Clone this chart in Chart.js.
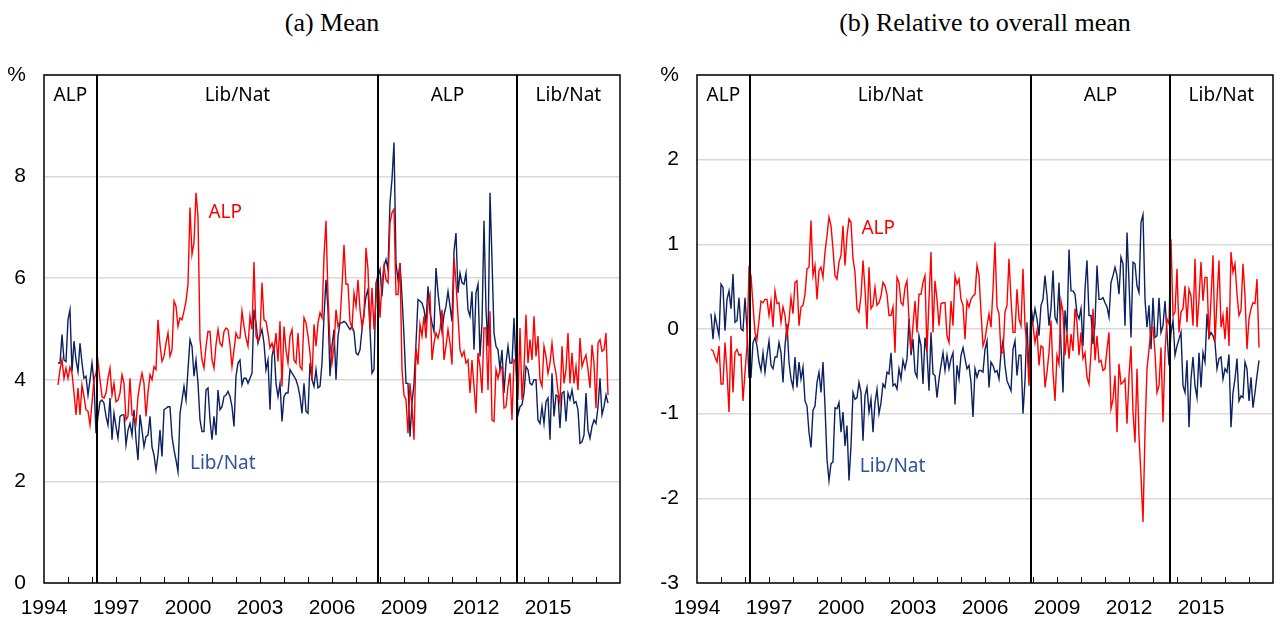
<!DOCTYPE html>
<html>
<head>
<meta charset="utf-8">
<script src="https://cdn.jsdelivr.net/npm/chart.js@4.4.0/dist/chart.umd.min.js"></script>
<style>
  body { margin: 0; background: #fff; width: 1280px; height: 622px; position: relative; overflow: hidden; }
  .title { position: absolute; top: 8px; width: 576px; text-align: center; font: 26px/30px "Liberation Serif", "Times New Roman", serif; color: #000; }
  .panel { position: absolute; top: 0; height: 622px; }
</style>
</head>
<body>
<div class="title" style="left:44px">(a) Mean</div>
<div class="title" style="left:697px">(b) Relative to overall mean</div>
<div class="panel" style="left:0;width:640px"><canvas id="meanChart"></canvas></div>
<div class="panel" style="left:653px;width:627px"><canvas id="relChart"></canvas></div>

<script>
// monthly observations, first one is August 1994
const startYear = 1994;
const startMonth = 8;
const govChanges = [1996.2, 2007.92, 2013.7];
const periodNames = ['ALP', 'Lib/Nat', 'ALP', 'Lib/Nat'];
const yearTicks = [1994, 1997, 2000, 2003, 2006, 2009, 2012, 2015];

// (a) mean, per cent
const alpMean = [
  3.90, 4.20, 4.40, 4.03, 4.23, 4.03, 4.25, 4.13, 3.74, 3.31,
  3.84, 3.31, 3.90, 3.67, 3.41, 3.38, 3.11, 3.54, 4.00, 4.13,
  4.36, 4.00, 3.67, 3.64, 3.74, 4.03, 4.23, 3.70, 3.93, 3.57,
  3.60, 3.74, 4.10, 3.93, 3.21, 3.28, 4.03, 3.31, 3.28, 3.14,
  3.67, 3.93, 4.13, 3.93, 3.28, 3.74, 4.10, 4.00, 4.26, 4.20,
  5.18, 4.69, 4.36, 4.46, 4.72, 4.92, 4.46, 4.59, 5.55, 5.45,
  5.05, 5.22, 5.18, 5.35, 5.55, 5.88, 7.39, 6.47, 6.70, 7.68,
  7.22, 4.79, 4.39, 4.23, 4.66, 4.95, 4.95, 4.39, 4.23, 4.69,
  4.99, 4.72, 4.66, 4.95, 5.02, 4.99, 4.69, 4.26, 4.59, 4.92,
  4.82, 4.82, 5.35, 5.05, 4.82, 4.66, 5.25, 4.99, 6.32, 4.86,
  4.76, 4.89, 5.91, 5.18, 5.15, 4.92, 4.63, 4.72, 4.56, 4.92,
  4.36, 5.15, 3.87, 5.05, 4.59, 4.33, 4.86, 4.99, 4.39, 4.33,
  4.92, 4.26, 4.20, 5.22, 5.12, 4.86, 4.53, 4.00, 5.09, 4.66,
  5.12, 5.32, 5.22, 6.43, 7.13, 5.64, 4.72, 4.33, 4.66, 5.38,
  5.05, 5.15, 5.84, 6.66, 5.88, 5.88, 5.15, 5.02, 5.71, 5.45,
  5.97, 5.38, 5.05, 5.25, 6.60, 6.17, 4.99, 5.81, 4.99, 5.58,
  6.17, 5.22, 5.91, 6.24, 5.97, 5.91, 7.09, 7.29, 7.36, 5.68,
  5.68, 6.30, 4.20, 3.70, 3.61, 2.95, 3.93, 3.47, 2.82, 4.63,
  4.30, 5.09, 4.86, 5.25, 4.82, 5.51, 5.68, 4.39, 4.72, 4.92,
  4.82, 4.99, 5.38, 4.39, 4.66, 4.99, 4.72, 4.30, 6.40, 5.91,
  5.25, 4.59, 4.46, 4.56, 4.33, 4.39, 3.74, 4.39, 3.87, 3.34,
  4.53, 4.26, 3.74, 5.02, 5.02, 3.80, 5.35, 3.21, 3.18, 4.20,
  4.03, 4.20, 4.26, 3.44, 3.47, 3.87, 4.13, 3.21, 4.39, 4.33,
  3.61, 5.02, 3.61, 4.20, 5.28, 4.33, 4.79, 4.39, 5.25, 4.46,
  4.86, 4.00, 3.87, 4.66, 4.46, 4.13, 4.33, 4.72, 4.33, 4.13,
  3.77, 3.54, 4.66, 3.93, 4.20, 4.92, 3.93, 4.53, 3.93, 4.26,
  3.80, 4.82, 4.26, 4.39, 4.49, 4.20, 3.84, 4.69, 4.33, 3.44,
  4.72, 4.79, 4.56, 4.59, 4.92, 3.70
];
const libMean = [
  4.33, 4.33, 4.89, 4.39, 4.36, 5.18, 5.38, 4.16, 4.76, 4.39,
  4.16, 4.72, 4.33, 4.03, 4.07, 3.70, 4.00, 4.33, 3.93, 2.95,
  3.28, 3.57, 3.60, 3.54, 3.28, 3.11, 3.64, 2.82, 3.34, 3.08,
  2.85, 3.28, 3.31, 3.31, 2.72, 3.01, 3.14, 2.91, 3.41, 2.82,
  2.42, 3.31, 3.01, 2.68, 2.88, 2.91, 3.28, 2.68, 2.52, 2.22,
  2.52, 3.01, 2.49, 3.41, 3.44, 3.47, 3.47, 2.88, 2.62, 2.42,
  2.19, 3.34, 3.60, 3.87, 3.60, 4.20, 4.79, 4.66, 4.07, 4.39,
  3.93, 3.21, 2.98, 2.98, 3.80, 3.84, 3.21, 2.82, 3.28, 2.91,
  3.80, 3.41, 3.47, 3.67, 3.70, 3.77, 3.67, 3.47, 3.08, 4.07,
  4.33, 4.39, 3.90, 4.03, 4.03, 3.93, 4.03, 4.13, 5.38, 5.12,
  4.72, 4.86, 4.99, 4.72, 4.20, 4.39, 3.41, 4.46, 4.66, 3.93,
  3.67, 3.93, 3.18, 3.67, 3.74, 3.74, 4.20, 4.13, 4.07, 4.00,
  3.87, 3.67, 3.34, 3.93, 3.38, 3.34, 4.33, 4.00, 3.87, 4.20,
  3.84, 3.87, 4.33, 5.25, 5.97, 5.38, 4.07, 4.66, 4.99, 4.00,
  4.86, 5.12, 5.12, 5.15, 5.12, 5.05, 4.99, 5.05, 4.95, 4.53,
  4.49, 4.59, 4.99, 5.32, 5.64, 5.78, 4.99, 4.13, 4.20, 5.91,
  6.04, 6.17, 5.64, 6.24, 6.37, 6.17, 7.49, 7.95, 8.67, 6.30,
  5.97, 6.30, 5.64, 4.86, 3.93, 3.93, 2.88, 3.54, 3.93, 4.72,
  5.58, 5.55, 5.51, 5.38, 5.12, 5.84, 5.32, 5.12, 4.95, 6.20,
  5.71, 5.35, 4.95, 5.28, 5.45, 5.74, 5.45, 5.15, 6.53, 6.89,
  5.71, 6.10, 5.91, 5.88, 6.10, 5.38, 5.25, 5.74, 4.59, 5.71,
  5.88, 4.46, 5.12, 7.13, 5.38, 4.66, 7.68, 6.37, 4.92, 4.66,
  4.59, 4.20, 4.59, 3.74, 4.33, 4.66, 4.33, 4.33, 5.22, 4.26,
  3.31, 3.47, 3.51, 3.74, 4.26, 4.20, 3.93, 3.90, 4.00, 4.00,
  3.21, 3.14, 3.47, 3.14, 3.57, 3.64, 2.82, 4.13, 3.28, 3.70,
  3.67, 3.05, 3.74, 3.77, 3.18, 3.74, 3.61, 3.80, 3.54, 3.57,
  3.41, 2.75, 2.78, 2.91, 3.74, 3.01, 2.85, 3.08, 3.21, 3.14,
  3.47, 4.03, 3.31, 3.47, 3.70, 3.54
];

// (b) relative to overall mean, percentage points
const alpRel = [
  -0.24, -0.26, -0.33, -0.39, -0.20, -0.65, -0.65, -0.16, -0.51, -0.98,
  -0.08, -0.75, -0.28, -0.24, -0.31, -0.30, -0.85, -0.51, -0.20, 0.71,
  0.63, 0.28, -0.04, -0.12, 0.10, 0.33, 0.31, 0.35, 0.35, 0.16,
  0.33, 0.02, 0.45, 0.30, 0.31, 0.08, 0.26, 0.16, -0.08, 0.10,
  0.37, 0.18, 0.55, 0.57, 0.04, 0.26, 0.28, 0.41, 0.71, 0.73,
  1.28, 0.63, 0.75, 0.35, 0.69, 0.73, 0.61, 0.91, 1.10, 1.32,
  1.22, 0.94, 0.63, 0.59, 0.79, 0.87, 1.22, 0.75, 1.10, 1.30,
  1.26, 0.83, 0.67, 0.24, 0.20, 0.39, 0.81, 0.47, 0.00, 0.73,
  0.24, 0.28, 0.49, 0.28, 0.31, 0.39, 0.55, 0.51, 0.41, 0.16,
  0.16, 0.26, -0.28, 0.61, 0.55, 0.31, 0.28, 0.49, 0.57, 0.12,
  -0.26, 0.04, 0.33, -0.04, 0.41, 0.41, 0.55, 0.63, -0.28, 0.35,
  0.91, -0.04, 0.57, 0.35, 0.04, 0.30, 0.31, 0.31, -0.08, -0.16,
  0.33, 0.04, 0.63, 0.53, 0.59, 0.35, 0.28, -0.12, 0.33, 0.26,
  0.35, 0.39, 0.41, 0.75, 0.63, 0.20, -0.20, -0.12, 0.04, 0.18,
  0.02, 0.47, 1.02, 0.26, 0.18, -0.28, -0.28, 0.20, 0.28, 0.83,
  0.35, -0.04, -0.04, 0.47, 0.12, 0.04, 0.71, 0.04, -0.20, -0.67,
  0.12, 0.04, -0.16, -0.02, -0.43, -0.20, -0.22, -0.69, -0.51, -0.28,
  0.10, -0.51, -0.85, -0.31, -0.41, 0.33, 0.20, -0.31, -0.04, -0.35,
  -0.06, -0.26, 0.24, 0.08, -0.31, -0.04, -0.35, -0.28, -0.57, -0.65,
  -0.28, 0.24, -0.37, -0.08, -0.39, -0.37, -0.49, -0.47, -0.24, -0.04,
  -0.94, -0.83, -0.55, -1.22, -0.41, -0.65, -0.63, -0.59, -1.12, -0.55,
  -0.20, -0.98, -1.34, -0.47, -1.26, -1.73, -2.28, -1.22, -0.47, -0.24,
  0.00, 0.02, -0.28, -0.75, -0.67, -0.22, -1.10, -0.28, 0.12, 0.06,
  1.06, 0.16, 0.20, 0.71, -0.04, 0.20, 0.24, 0.51, 0.08, 0.47,
  0.39, 0.04, 0.83, 0.02, 0.35, 0.79, 0.33, 0.61, 0.61, -0.12,
  0.35, 0.87, -0.16, 0.35, 0.81, 0.02, 0.16, -0.12, 0.26, -0.20,
  0.91, 0.67, 0.77, 0.41, 0.16, 0.22, 0.77, 0.39, -0.24, 0.12,
  0.24, 0.31, 0.30, 0.59, -0.22
];
const libRel = [
  0.18, -0.12, 0.16, 0.04, -0.08, 0.53, 0.49, -0.02, 0.35, 0.45,
  0.24, 0.65, 0.08, 0.10, 0.37, 0.00, -0.02, 0.37, 0.00, -0.57,
  -0.57, -0.16, -0.10, -0.20, -0.39, -0.49, -0.28, -0.51, -0.31, -0.14,
  -0.43, -0.47, -0.33, -0.33, -0.16, -0.28, -0.63, -0.20, 0.06, -0.39,
  -0.59, -0.69, -0.33, -0.69, -0.39, -0.59, -0.45, -0.85, -0.91, -1.22,
  -1.40, -0.96, -0.91, -0.63, -0.51, -0.75, -0.39, -0.91, -1.54, -1.79,
  -1.59, -1.57, -0.93, -0.94, -0.87, -1.22, -0.98, -1.38, -1.14, -1.79,
  -1.38, -0.75, -0.83, -0.81, -0.63, -0.75, -1.32, -0.79, -0.69, -0.98,
  -0.83, -1.22, -0.87, -0.71, -1.00, -0.87, -0.65, -0.69, -0.51, -0.53,
  -0.28, -0.67, -0.65, -0.71, -0.47, -0.59, -0.37, -0.47, -0.35, 0.12,
  -0.31, -0.12, -0.51, -0.57, -0.08, -0.20, -0.65, -0.10, -0.28, -0.73,
  -0.04, -0.53, -0.55, -0.81, -0.59, -0.43, -0.28, -0.49, -0.31, -0.47,
  -0.35, -0.28, -0.89, -0.43, -0.59, -0.31, -0.22, -0.35, -0.47, -0.43,
  -0.63, -1.04, -0.47, -0.57, -0.49, -0.49, -0.51, -0.24, -0.14, -0.69,
  -0.39, -0.43, -0.51, -0.49, -0.59, -0.28, -0.14, -0.43, -0.61, -0.67,
  -0.73, -0.24, -0.14, -0.55, -0.31, -0.31, -1.00, -0.61, 0.08, -0.55,
  0.28, 0.08, 0.24, 0.12, -0.08, 0.28, 0.35, 0.63, 0.39, 0.04,
  0.24, 0.69, 0.14, 0.08, 0.55, -0.20, -0.75, 0.22, -0.04, 0.94,
  0.45, 0.45, 0.41, 0.18, 0.12, 0.24, -0.20, 0.47, 0.81, 0.16,
  0.16, -0.18, 0.06, 0.75, 0.35, 0.35, 0.37, 0.31, 0.26, 0.14,
  0.55, 0.63, 0.73, 0.63, 0.41, 0.85, 0.77, 0.04, 1.14, 0.55,
  -0.10, 0.79, 0.77, 0.51, 0.43, 1.26, 1.35, 0.35, 0.02, 0.28,
  -0.24, 0.37, -0.10, -0.08, 0.37, -0.04, 0.04, 0.33, -0.04, -0.43,
  -0.04, 0.10, -0.31, -0.20, -0.12, -0.04, -0.67, -0.75, -0.37, -1.16,
  -0.59, -0.33, -0.67, -0.81, -0.28, -0.69, -0.28, -0.39, 0.18, -0.10,
  -0.04, -0.08, -0.16, -0.47, -0.35, -0.33, -0.59, -0.47, -0.51, -0.30,
  -1.16, -0.75, -0.59, -0.35, -0.85, -0.79, -0.81, -0.39, -0.47, -0.85,
  -0.57, -0.93, -0.75, -0.55, -0.37
];

const ALP_RED = '#ff0000';
const LIB_BLUE = '#0b2160';
const LIB_TEXT = '#2f5597';

const months = alpMean.map((_, i) => startYear + (startMonth - 1 + i) / 12);
const toPoints = (values) => values.map((v, i) => ({ x: months[i], y: v }));

Chart.defaults.font.family = '"Liberation Sans", Arial, sans-serif';
Chart.defaults.font.size = 21;
Chart.defaults.color = '#000';

// black frame, government change lines, inward year ticks and text labels
const panelDecor = {
    id: 'panelDecor',
    afterDatasetsDraw(chart, args, opts) {
        const { ctx, chartArea: area, scales: { x, y } } = chart;
        ctx.save();
        ctx.strokeStyle = '#000';

        ctx.lineWidth = 2;
        govChanges.forEach(t => {
            const px = Math.round(x.getPixelForValue(t));
            ctx.beginPath();
            ctx.moveTo(px, area.top);
            ctx.lineTo(px, area.bottom);
            ctx.stroke();
        });

        ctx.lineWidth = 1;
        for (let yr = x.min + 1; yr < x.max; yr++) {
            const px = Math.round(x.getPixelForValue(yr)) + 0.5;
            ctx.beginPath();
            ctx.moveTo(px, area.bottom);
            ctx.lineTo(px, area.bottom - 6);
            ctx.stroke();
        }

        ctx.lineWidth = 1.5;
        ctx.strokeRect(area.left, area.top, area.width, area.height);

        ctx.font = '19px "Noto Sans", sans-serif';
        ctx.textAlign = 'center';
        ctx.textBaseline = 'middle';
        ctx.fillStyle = '#000';
        const edges = [x.min, ...govChanges, x.max];
        periodNames.forEach((name, i) => {
            const cx = (x.getPixelForValue(edges[i]) + x.getPixelForValue(edges[i + 1])) / 2;
            ctx.fillText(name, cx, area.top + 21);
        });

        opts.labels.forEach(l => {
            ctx.fillStyle = l.color;
            ctx.fillText(l.text, x.getPixelForValue(l.x), y.getPixelForValue(l.y));
        });
        ctx.restore();
    }
};

function buildChart(canvasId, alpValues, libValues, yMin, yMax, yStep, labels) {
    return new Chart(document.getElementById(canvasId), {
        type: 'line',
        data: {
            datasets: [
                { label: 'ALP', data: toPoints(alpValues), borderColor: ALP_RED },
                { label: 'Lib/Nat', data: toPoints(libValues), borderColor: LIB_BLUE }
            ]
        },
        options: {
            responsive: true,
            maintainAspectRatio: false,
            animation: false,
            layout: { padding: { top: 75, right: canvasId === 'meanChart' ? 20 : 7, left: 0, bottom: 0 } },
            elements: {
                line: { borderWidth: 1.4, tension: 0 },
                point: { radius: 0 }
            },
            plugins: {
                legend: { display: false },
                tooltip: { enabled: false },
                panelDecor: { labels }
            },
            scales: {
                x: {
                    type: 'linear',
                    min: 1994,
                    max: 2018,
                    afterBuildTicks: (scale) => { scale.ticks = yearTicks.map(v => ({ value: v })); },
                    afterFit: (scale) => { scale.height = 39; },
                    grid: { display: false, drawTicks: false },
                    border: { display: false },
                    ticks: { autoSkip: false, maxRotation: 0, padding: 13, callback: (v) => String(v) }
                },
                y: {
                    min: yMin,
                    max: yMax,
                    afterFit: (scale) => { scale.width = 44; },
                    grid: { color: '#d9d9d9', lineWidth: 1.5, drawTicks: false },
                    border: { display: false },
                    ticks: { stepSize: yStep, padding: 18, callback: (v) => (v === yMax ? '%' : String(v)) }
                }
            }
        },
        plugins: [panelDecor]
    });
}

buildChart('meanChart', alpMean, libMean, 0, 10, 2, [
    { text: 'ALP', x: 2001.55, y: 7.3, color: ALP_RED },
    { text: 'Lib/Nat', x: 2001.45, y: 2.36, color: LIB_TEXT }
]);
buildChart('relChart', alpRel, libRel, -3, 3, 1, [
    { text: 'ALP', x: 2001.55, y: 1.18, color: ALP_RED },
    { text: 'Lib/Nat', x: 2002.15, y: -1.62, color: LIB_TEXT }
]);
</script>
</body>
</html>
